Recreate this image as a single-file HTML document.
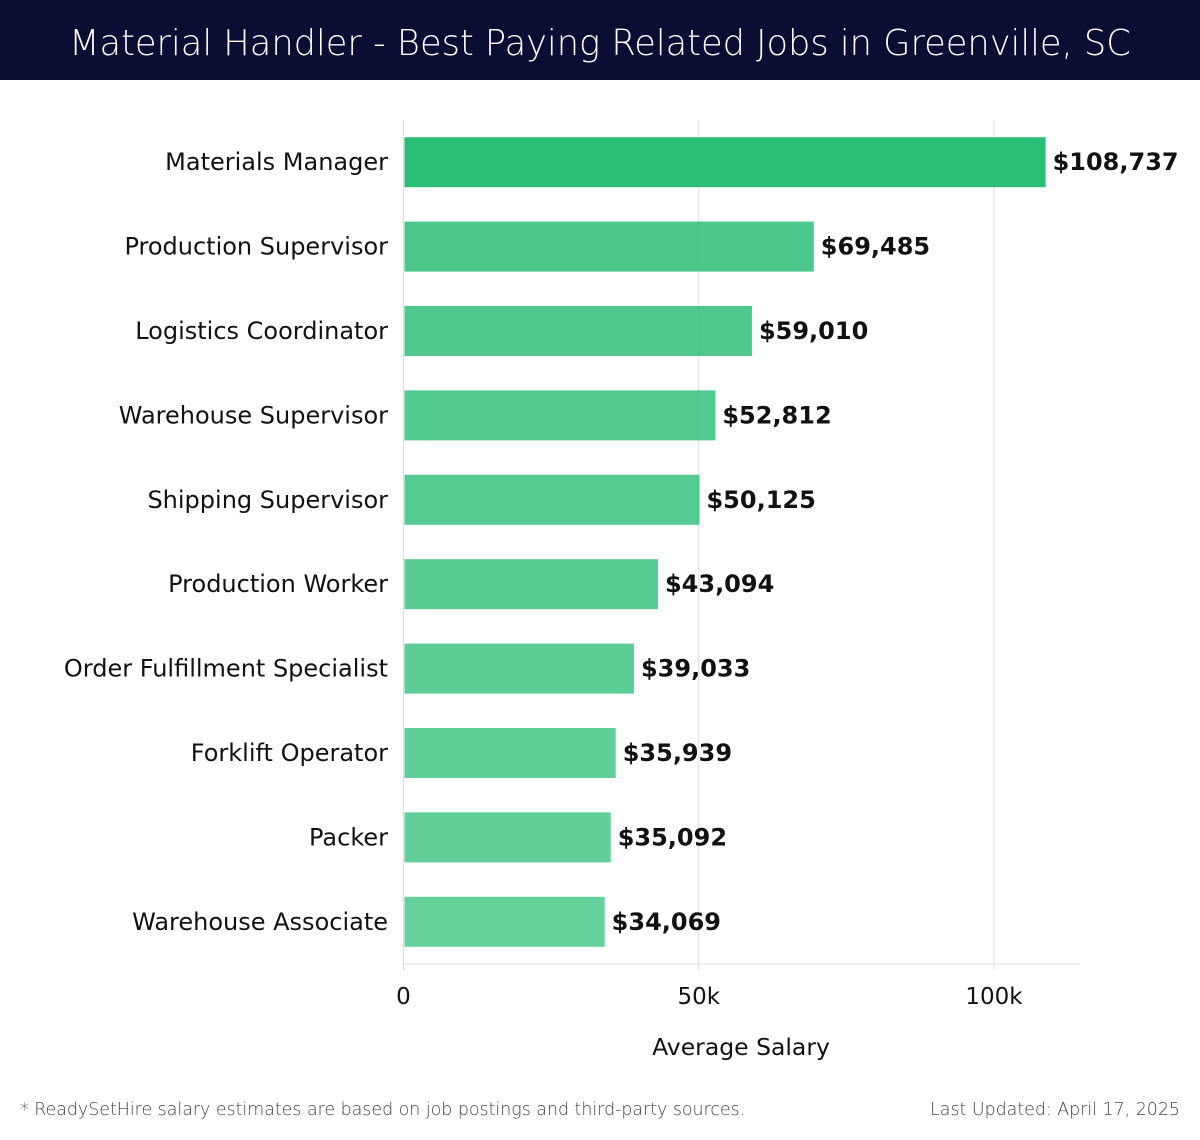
<!DOCTYPE html>
<html><head><meta charset="utf-8"><style>
body{margin:0;background:#fff;width:1200px;height:1140px;overflow:hidden;font-family:"Liberation Sans","DejaVu Sans",sans-serif}
#hdr{position:absolute;left:0;top:0;width:1200px;height:80px;background:#0b0d33;color:#fff;font-family:"DejaVu Sans",sans-serif;font-size:35.2px;text-align:center;line-height:88px;font-weight:300}
.foot{position:absolute;top:1100px;font-size:17.4px;color:#444;font-family:"DejaVu Sans",sans-serif;font-weight:300}
</style></head><body>
<div id="hdr">Material Handler - Best Paying Related Jobs in Greenville, SC</div>
<svg id="chart" width="1200" height="1140" style="position:absolute;left:0;top:0;pointer-events:none"></svg>
<div class="foot" style="left:20px">* ReadySetHire salary estimates are based on job postings and third-party sources.</div>
<div class="foot" style="right:20px">Last Updated: April 17, 2025</div>
<script>
const categories=["Materials Manager","Production Supervisor","Logistics Coordinator","Warehouse Supervisor","Shipping Supervisor","Production Worker","Order Fulfillment Specialist","Forklift Operator","Packer","Warehouse Associate"];
const salaries=[108737,69485,59010,52812,50125,43094,39033,35939,35092,34069];
const tickValues=[0,50000,100000];
const tickLabels=["0","50k","100k"];
const NS="http://www.w3.org/2000/svg";
const svg=document.getElementById('chart');
const x0=403.5,x1=994,top0=120,bottom=964;
const xs=v=>x0+(x1-x0)*v/100000;
const band=(bottom-top0)/categories.length;
const yc=i=>top0+band*(i+0.5);
function mk(t,a){const e=document.createElementNS(NS,t);for(const k in a)e.setAttribute(k,a[k]);svg.appendChild(e);return e;}
tickValues.forEach((v,i)=>{
 const g=mk('line',{x1:xs(v),x2:xs(v),y1:top0,y2:970,stroke:'#ddd','stroke-width':1});
 
 
 const t=mk('text',{x:xs(v),y:1004,'text-anchor':'middle','font-size':23,fill:'#111','font-family':'DejaVu Sans, sans-serif'});
 t.textContent=tickLabels[i];
 
 
});
const ax=mk('line',{x1:x0,x2:1080,y1:bottom,y2:bottom,stroke:'#ddd','stroke-width':1});


const at=mk('text',{x:741,y:1055,'text-anchor':'middle','font-size':23.5,fill:'#111','font-family':'DejaVu Sans, sans-serif'});
at.textContent='Average Salary';


categories.forEach((c,i)=>{
 const y=yc(i);
 const r=mk('rect',{x:x0+1,y:y-25,width:xs(salaries[i])-x0-1,height:50,fill:'#2bbe77','fill-opacity':i==0?1:(0.86-i*0.015)});
 
 
 const l=mk('text',{x:388,y:y+8,'text-anchor':'end','font-size':24,fill:'#111','font-family':'DejaVu Sans, sans-serif'});
 l.textContent=c;
 
 
 const v=mk('text',{x:xs(salaries[i])+7,y:y+8,'font-size':24,'font-weight':'bold',fill:'#111','font-family':'DejaVu Sans, sans-serif'});
 v.textContent='$'+salaries[i].toLocaleString('en-US');
 
 
});
const yl=mk('line',{x1:x0,x2:x0,y1:top0,y2:970,stroke:'#ddd','stroke-width':1});


</script>
</body></html>
